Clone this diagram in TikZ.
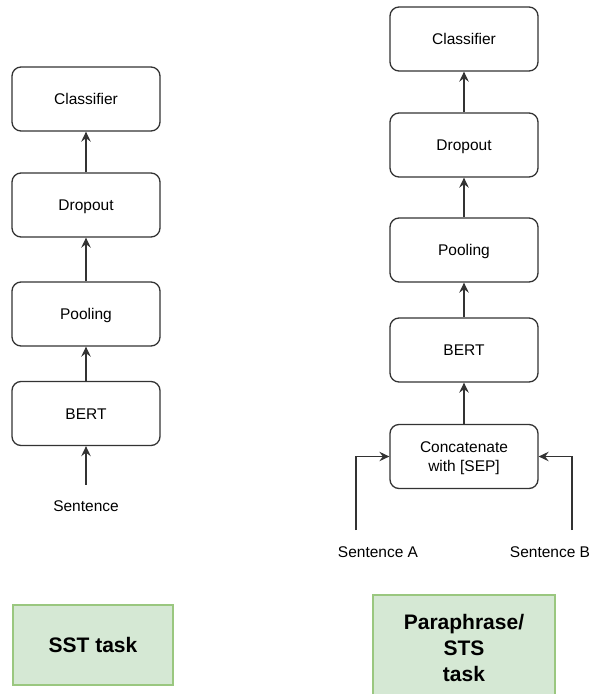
\documentclass[tikz,border=0pt]{standalone}
\usepackage{fontspec}
\setmainfont{Liberation Sans}
\usetikzlibrary{arrows.meta}
\definecolor{boxline}{HTML}{333333}
\definecolor{taskfill}{HTML}{D5E8D4}
\definecolor{taskline}{HTML}{9AC77F}
\begin{document}
\begin{tikzpicture}[x=1pt,y=-1pt,
    layer/.style={draw=boxline,line width=1.3pt,rounded corners=9pt,minimum width=148pt,minimum height=64pt,inner sep=0pt,text height=11.5pt,text depth=0pt,align=center,font=\fontsize{15.5}{19}\selectfont},
    inp/.style={inner sep=0pt,minimum height=42pt,text height=11.5pt,text depth=0pt,font=\fontsize{15.5}{19}\selectfont},
    task/.style={draw=taskline,fill=taskfill,line width=1.3pt,inner sep=0pt,align=center,font=\fontsize{21}{26}\selectfont\bfseries},
    flow/.style={draw=boxline,line width=1.3pt,-{Stealth[length=10pt,width=9.5pt,inset=3.5pt]}}]
      \useasboundingbox (0,0) rectangle (591,694);
      % SST task
      \node[layer] (sclf) at (86,99) {Classifier};
      \node[layer] (sdrop) at (86,205) {Dropout};
      \node[layer] (spool) at (86,314) {Pooling};
      \node[layer] (sbert) at (86,413.5) {BERT};
      \node[inp] (ssent) at (86,506) {Sentence};
      \draw[flow] (ssent.north) -- (sbert.south);
      \draw[flow] (sbert.north) -- (spool.south);
      \draw[flow] (spool.north) -- (sdrop.south);
      \draw[flow] (sdrop.north) -- (sclf.south);
      \node[task,minimum width=160pt,minimum height=80pt] (sst) at (93,645) {SST task};
      % Paraphrase / STS task
      \node[layer] (pclf) at (464,39) {Classifier};
      \node[layer] (pdrop) at (464,145) {Dropout};
      \node[layer] (ppool) at (464,250) {Pooling};
      \node[layer] (pbert) at (464,350) {BERT};
      \node[layer,text height=30.5pt] (pcat) at (464,456.5) {Concatenate\\with [SEP]};
      \node[inp] (senta) at (378,552) {Sentence A};
      \node[inp] (sentb) at (550,552) {Sentence B};
      \coordinate (ina) at (356,530);
      \coordinate (inb) at (572,530);
      \draw[flow] (ina) |- (pcat.west);
      \draw[flow] (inb) |- (pcat.east);
      \draw[flow] (pcat.north) -- (pbert.south);
      \draw[flow] (pbert.north) -- (ppool.south);
      \draw[flow] (ppool.north) -- (pdrop.south);
      \draw[flow] (pdrop.north) -- (pclf.south);
      \node[task,minimum width=182pt,minimum height=106pt] (sts) at (464,648) {Paraphrase/\\STS\\task};
    \end{tikzpicture}
\end{document}
